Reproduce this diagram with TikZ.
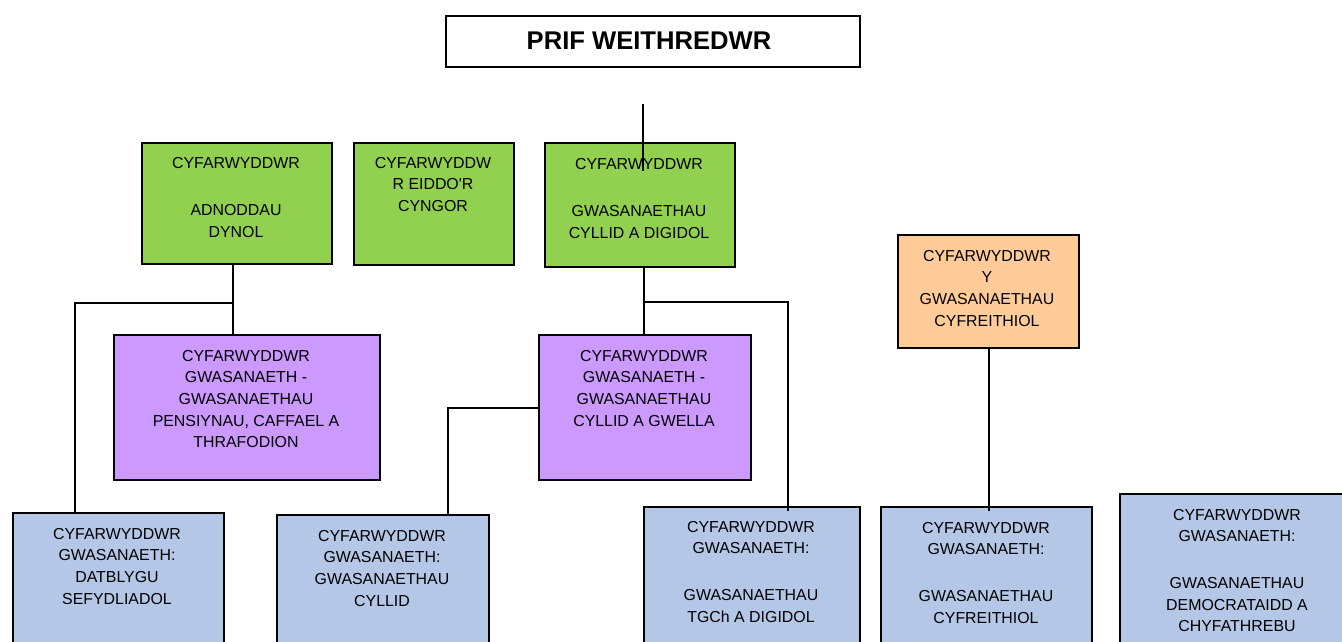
\documentclass[tikz,border=0pt]{standalone}
\usepackage{fontspec}
\setmainfont{Liberation Sans}
\newfontfamily\arialf{Liberation Sans}
\definecolor{grn}{HTML}{92D050}
\definecolor{ppl}{HTML}{CC99FF}
\definecolor{blu}{HTML}{B4C7E7}
\definecolor{org}{HTML}{FFCC99}
\tikzset{
  boxshape/.style={draw=black, line width=1.5pt, inner sep=0pt, anchor=north west},
  txt/.style={align=center, inner sep=0pt, anchor=north, font=\arialf\fontsize{15.9}{21.6}\selectfont},
  conn/.style={draw=black, line width=2pt},
}
\newcommand{\mybox}[6]{% name, x1, y1, x2, y2, colour
  \node[boxshape, fill=#6, minimum width={#4-#2}, minimum height={#5-#3}] (#1) at (#2,#3) {};}
\begin{document}
\begin{tikzpicture}[x=1pt,y=-1pt]
\useasboundingbox (0,0) rectangle (1342,641);
\clip (0,0) rectangle (1342,641);
\fill[white] (0,0) rectangle (1342,641);
% title
\mybox{ceo}{445}{15}{859}{66}{white}
\node[inner sep=0pt, font=\arialf\fontsize{25.6}{30}\selectfont\bfseries] (ceo-t) at (649,41) {PRIF WEITHREDWR};
% green
\mybox{hr}{141}{142}{331}{263}{grn}
\mybox{prop}{353}{142}{513}{264}{grn}
\mybox{fin}{544}{142}{734}{266}{grn}
% orange
\mybox{legal}{897}{234}{1078}{347}{org}
% purple
\mybox{pp1}{113}{334}{379}{479}{ppl}
\mybox{pp2}{538}{334}{750}{479}{ppl}
% blue
\mybox{b1}{12}{512}{223}{670}{blu}
\mybox{b2}{276}{514}{488}{670}{blu}
\mybox{b3}{643}{506}{859}{670}{blu}
\mybox{b4}{880}{506}{1091}{670}{blu}
\mybox{b5}{1119}{493}{1355}{670}{blu}
% texts
\node[txt] (hr-t) at (236,157) {CYFARWYDDWR\\[26pt]ADNODDAU\\DYNOL};
\node[txt] (prop-t) at (433,157) {CYFARWYDDW\\R EIDDO'R\\CYNGOR};
\node[txt] (fin-t) at (639,158) {CYFARWYDDWR\\[26pt]GWASANAETHAU\\CYLLID A DIGIDOL};
\node[txt] (legal-t) at (987,250) {CYFARWYDDWR\\Y\\GWASANAETHAU\\CYFREITHIOL};
\node[txt] (pp1-t) at (246,350) {CYFARWYDDWR\\GWASANAETH -\\GWASANAETHAU\\PENSIYNAU, CAFFAEL A\\THRAFODION};
\node[txt] (pp2-t) at (644,350) {CYFARWYDDWR\\GWASANAETH -\\GWASANAETHAU\\CYLLID A GWELLA};
\node[txt] (b1-t) at (117,528) {CYFARWYDDWR\\GWASANAETH:\\DATBLYGU\\SEFYDLIADOL};
\node[txt] (b2-t) at (382,530) {CYFARWYDDWR\\GWASANAETH:\\GWASANAETHAU\\CYLLID};
\node[txt] (b3-t) at (751,521) {CYFARWYDDWR\\GWASANAETH:\\[25pt]GWASANAETHAU\\TGCh A DIGIDOL};
\node[txt] (b4-t) at (986,522) {CYFARWYDDWR\\GWASANAETH:\\[25pt]GWASANAETHAU\\CYFREITHIOL};
\node[txt] (b5-t) at (1237,509) {CYFARWYDDWR\\GWASANAETH:\\[25pt]GWASANAETHAU\\DEMOCRATAIDD A\\CHYFATHREBU};
% connectors
\coordinate (topfree) at (643,104);
\coordinate (topend) at (643,171);
\draw[conn] (topfree) -- (topend);
\coordinate (j1) at (233,303);
\draw[conn] (j1 |- hr.south) -- (j1 |- pp1.north);
\draw[conn] (j1) -| ([xshift=63pt]b1.north west);
\coordinate (j2) at (644,302);
\draw[conn] (j2 |- fin.south) -- (j2 |- pp2.north);
\coordinate (b3in) at (788,511);
\draw[conn] (j2) -| (b3in);
\coordinate (j3) at (448,408);
\draw[conn] (pp2.west |- j3) -| ([xshift=172pt]b2.north west);
\coordinate (b4in) at (989,511);
\draw[conn] (b4in |- legal.south) -- (b4in);
\end{tikzpicture}
\end{document}
